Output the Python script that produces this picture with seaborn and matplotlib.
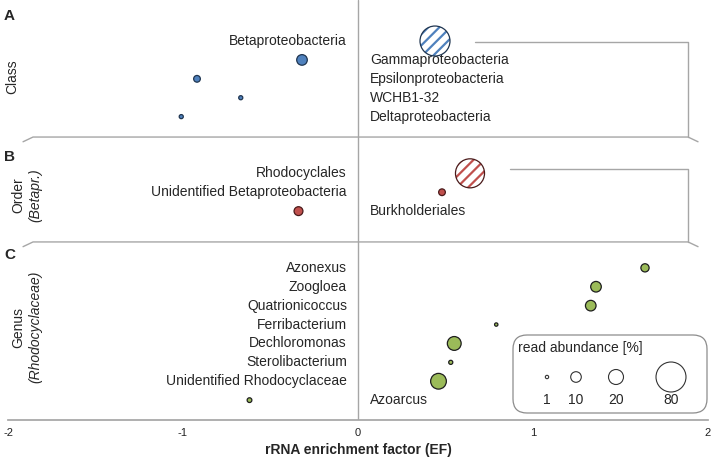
import numpy as np
import pandas as pd
import seaborn as sns
import matplotlib.pyplot as plt
from matplotlib.patches import FancyBboxPatch

# values
class_names = ["Betaproteobacteria", "Gammaproteobacteria", "Epsilonproteobacteria",
               "WCHB1-32", "Deltaproteobacteria"]
class_ef = [0.44, -0.32, -0.92, -0.67, -1.01]
class_abund = [85, 10, 4, 1.5, 1.5]

order_names = ["Rhodocyclales", "Unidentified Betaproteobacteria", "Burkholderiales"]
order_ef = [0.64, 0.48, -0.34]
order_abund = [75, 4, 7]

genus_names = ["Azonexus", "Zoogloea", "Quatrionicoccus", "Ferribacterium",
               "Dechloromonas", "Sterolibacterium", "Unidentified Rhodocyclaceae",
               "Azoarcus"]
genus_ef = [1.64, 1.36, 1.33, 0.79, 0.55, 0.53, 0.46, -0.62]
genus_abund = [6, 10, 10, 1, 17, 1.5, 22, 2]

hatched = ["Betaproteobacteria", "Rhodocyclales"]
legend_values = [1, 10, 20, 80]

# row where each panel starts
panels = [("Class", class_names, class_ef, class_abund, 0),
          ("Order", order_names, order_ef, order_abund, 7),
          ("Genus", genus_names, genus_ef, genus_abund, 12)]
frames = []
for level, names, ef, ab, start in panels:
    frames.append(pd.DataFrame({"level": level, "name": names, "ef": ef,
                                "abundance": ab,
                                "row": start + np.arange(len(names))}))
df = pd.concat(frames, ignore_index=True)
df["hatched"] = df["name"].isin(hatched)

fill = {"Class": "#4f81bd", "Order": "#c0504d", "Genus": "#9bbb59"}
edge = {"Class": "#1f3550", "Order": "#4a1a1a", "Genus": "#1e1e1e"}
grey = "#a6a6a6"

sns.set_theme(style="white")
plt.rcParams["font.family"] = ["Liberation Sans", "DejaVu Sans"]
plt.rcParams["hatch.linewidth"] = 1.6

fig = plt.figure(figsize=(7.14, 4.61), dpi=100)
ax = fig.add_axes([8 / 714, 41 / 461, 700 / 714, 420 / 461])

size_kw = dict(size="abundance", sizes=(0, 466), size_norm=(0, 80), legend=False)

for level in fill:
    plain = df[(df.level == level) & ~df.hatched]
    sns.scatterplot(data=plain, x="ef", y="row", color=fill[level],
                    edgecolor=edge[level], linewidth=0.9, zorder=3, ax=ax, **size_kw)
    hat = df[(df.level == level) & df.hatched]
    if len(hat):
        with plt.rc_context({"hatch.color": fill[level]}):
            sns.scatterplot(data=hat, x="ef", y="row", color="white",
                            edgecolor=fill[level], linewidth=0, hatch="///",
                            zorder=3, ax=ax, **size_kw)
        sns.scatterplot(data=hat, x="ef", y="row", color="none",
                        edgecolor=edge[level], linewidth=0.9, zorder=4, ax=ax,
                        **size_kw)

# names on the opposite side of zero
for _, r in df.iterrows():
    if r.ef > 0:
        ax.text(-0.063, r.row, r["name"], ha="right", va="center", fontsize=10)
    else:
        ax.text(0.07, r.row, r["name"], ha="left", va="center", fontsize=10)

ax.axvline(0, color=grey, lw=1, zorder=1)

# separators and brackets
seps = [5.08, 10.63]
tops = [0.05, 6.77]
starts = [0.669, 0.869]
for sep, top, x0 in zip(seps, tops, starts):
    ax.plot([-1.914, -1.857, 1.886, 1.943], [sep + 0.25, sep, sep, sep + 0.25],
            color=grey, lw=1, clip_on=False)
    ax.plot([x0, 1.886, 1.886], [top, top, sep], color=grey, lw=1)

# panel letters and side titles
for letter, y in [("A", -1.32), ("B", 6.14), ("C", 11.32)]:
    ax.text(-2.023, y, letter, ha="left", va="center", fontsize=11,
            fontweight="bold", clip_on=False)
ax.text(-1.974, 1.9, "Class", rotation=90, ha="center", va="center", fontsize=10)
ax.text(-1.943, 8.15, "Order", rotation=90, ha="center", va="center", fontsize=10)
ax.text(-1.846, 8.15, "(Betapr.)", rotation=90, ha="center", va="center",
        fontsize=10, fontstyle="italic")
ax.text(-1.943, 15.13, "Genus", rotation=90, ha="center", va="center", fontsize=10)
ax.text(-1.846, 15.13, "(Rhodocyclaceae)", rotation=90, ha="center", va="center",
        fontsize=10, fontstyle="italic")

ax.set_xlim(-2, 2)
ax.set_ylim(20.05, -2.17)
ax.set_xticks([-2, -1, 0, 1, 2])
ax.set_xticklabels(["-2", "-1", "0", "1", "2"])
ax.set_yticks([])
ax.tick_params(axis="x", direction="in", length=3, width=1, color=grey,
               labelsize=8, pad=6, labelcolor="#222222")
for side in ["top", "right", "left"]:
    ax.spines[side].set_visible(False)
ax.spines["bottom"].set_color(grey)
ax.set_xlabel("rRNA enrichment factor (EF)", fontsize=10, fontweight="bold",
              labelpad=3)
ax.set_ylabel("")

# size legend
lax = fig.add_axes([512 / 714, 1 - 414 / 461, 196 / 714, 80 / 461])
lax.add_patch(FancyBboxPatch((1, 1), 194, 78, boxstyle="round,pad=0,rounding_size=14",
                             facecolor="white", edgecolor="#8c8c8c", lw=0.9))
leg = pd.DataFrame({"abundance": legend_values, "x": [35, 64, 104, 159], "y": 43})
sns.scatterplot(data=leg, x="x", y="y", color="white", edgecolor="#333333",
                linewidth=0.8, zorder=3, ax=lax, **size_kw)
lax.set_xlim(0, 196)
lax.set_ylim(80, 0)
lax.axis("off")
for v, x in zip(legend_values, leg["x"]):
    lax.text(x, 66, str(v), ha="center", va="center", fontsize=10)
lax.text(6, 14, "read abundance [%]", ha="left", va="center", fontsize=10)

fig.savefig("out.png", dpi=100)
